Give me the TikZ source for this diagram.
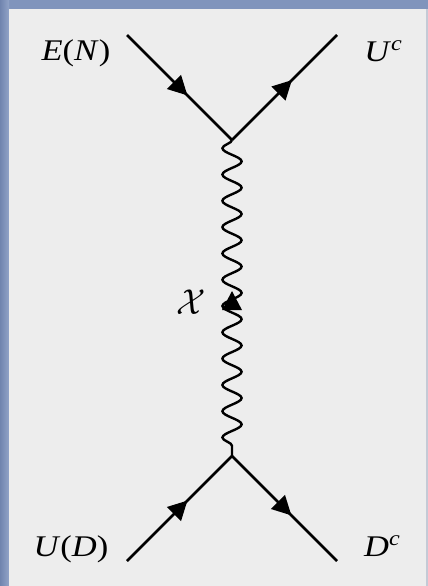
\documentclass[tikz,border=0pt]{standalone}
\usepackage{fontspec}
\setmainfont{Liberation Serif}
\usetikzlibrary{decorations.pathmorphing,decorations.markings}
\definecolor{frameblue}{RGB}{128,148,188}
\definecolor{framelight}{RGB}{146,164,200}
\definecolor{framedark}{RGB}{112,132,174}
\definecolor{panelgray}{RGB}{237,237,237}
\definecolor{edgegray}{RGB}{196,202,214}
\tikzset{
  fermion/.style={line width=2.5pt, black, postaction={decorate},
    decoration={markings, mark=at position #1 with {\fill[black] (0,0) -- (-19,10) -- (-19,-10) -- cycle;}}},
  fermion/.default=0.57,
  photon/.style={line width=2.4pt, black, decorate,
    decoration={snake, mirror, segment length=26.3pt, amplitude=9.6pt}},
  photonarrow/.style={postaction={decorate},
    decoration={markings, mark=at position #1 with {\fill[black] (0,0) -- (-19,10) -- (-19,-10) -- cycle;}}},
  lbl/.style={inner sep=0pt, anchor=base, font=\fontsize{30}{34}\selectfont},
}
\newcommand{\hstretch}[1]{\scalebox{1.15}[1]{#1}}
\begin{document}
\begin{tikzpicture}[x=1pt,y=-1pt]
\useasboundingbox (0,0) rectangle (428,586);
% frame
\fill[frameblue] (0,0) rectangle (428,586);
\shade[left color=framedark, right color=framelight] (0,0) rectangle (9,586);
\fill[panelgray] (9,9) rectangle (426,586);
\fill[edgegray] (426,9) rectangle (428,586);
% vertices and external points
\coordinate (v1) at (232,140);
\coordinate (v2) at (232,456);
\coordinate (tl) at (127,35);
\coordinate (tr) at (337,35);
\coordinate (bl) at (127,561);
\coordinate (br) at (337,561);
% fermion lines
\draw[fermion=0.575] (tl) -- (v1);
\draw[fermion=0.57] (v1) -- (tr);
\draw[fermion=0.575] (bl) -- (v2);
\draw[fermion=0.565] (v2) -- (br);
% boson line
\draw[photon] (v1) -- (v2);
\path[photonarrow=0.522] (v2) -- (v1);
% labels
\node[lbl] (en) at (76,61) {\hstretch{\textit{E}(\textit{N})}};
\node[lbl] (uc) at (383,62) {\hstretch{\textit{U}\raisebox{11pt}{\fontsize{21}{21}\selectfont\textit{c}}}};
\node[lbl] (ud) at (71,556) {\hstretch{\textit{U}(\textit{D})}};
\node[lbl] (dc) at (382,556) {\hstretch{\textit{D}\raisebox{11pt}{\fontsize{21}{21}\selectfont\textit{c}}}};
\node[inner sep=0pt] (chi) at (191,302) {\scalebox{3.4}[3.6]{$\mathcal{X}$}};
\end{tikzpicture}
\end{document}
